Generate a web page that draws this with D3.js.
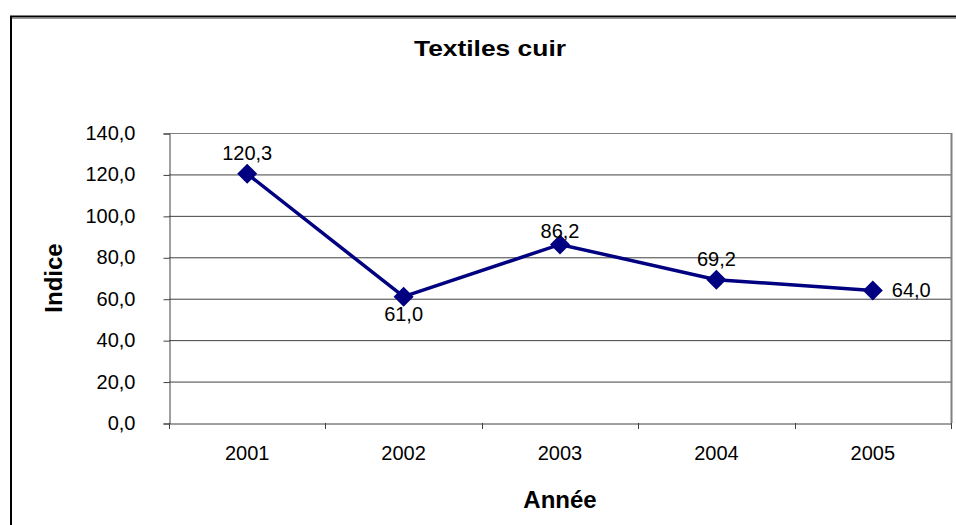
<!DOCTYPE html>
<html><head><meta charset="utf-8">
<script src="https://cdn.jsdelivr.net/npm/d3@7"></script>
<style>body{margin:0;background:#fff}svg{display:block}svg text{font-family:"Liberation Sans",Arial,sans-serif}</style>
</head><body><svg id="c" width="956" height="525"></svg>
<script>
const categories = ["2001","2002","2003","2004","2005"];
const values = [120.3, 61.0, 86.2, 69.2, 64.0];
const yTicks = [0,20,40,60,80,100,120,140];
const labelPos = ["above","below","near","above","right"];

const svg = d3.select("#c");
const m = {left:169, top:133, right:951, bottom:423};
const fmt = v => v.toFixed(1).replace(".", ",");

svg.append("rect").attr("x",11).attr("y",16.5).attr("width",1000).attr("height",600)
  .attr("fill","#fff").attr("stroke","#000").attr("stroke-width",2);
svg.append("line").attr("x1",12).attr("x2",956).attr("y1",18.5).attr("y2",18.5)
  .attr("stroke","#999").attr("stroke-width",1);

const x = d3.scaleBand().domain(categories).range([m.left, m.right]).padding(0);
const y = d3.scaleLinear().domain([0,140]).range([m.bottom, m.top]);

// gridlines
svg.append("g").selectAll("line").data(yTicks.filter(t=>t>0)).join("line")
  .attr("x1",m.left).attr("x2",m.right).attr("y1",d=>y(d)+0.5).attr("y2",d=>y(d)+0.5)
  .attr("stroke",d=>d===140?"#808080":"#404040").attr("stroke-width",1);
// right plot border
svg.append("line").attr("x1",m.right+0.5).attr("x2",m.right+0.5).attr("y1",m.top).attr("y2",m.bottom)
  .attr("stroke","#808080").attr("stroke-width",2);

// y axis
const ya = d3.axisLeft(y).tickValues(yTicks).tickSize(6).tickPadding(28).tickFormat(fmt);
const gy = svg.append("g").attr("transform",`translate(${m.left+0.5},0.5)`).call(ya);
gy.attr("font-size",null).attr("font-family",null);
gy.select(".domain").attr("stroke","#404040");
gy.selectAll(".tick line").attr("stroke","#404040");
gy.selectAll("text").style("font-size","20px").attr("fill","#000").attr("dy","0.3em");

// x axis
const xa = d3.axisBottom(x).tickSize(0).tickPadding(22);
const gx = svg.append("g").attr("transform",`translate(0,${m.bottom+0.5})`).call(xa);
gx.attr("font-size",null).attr("font-family",null);
gx.select(".domain").attr("stroke","#404040");
gx.selectAll("text").style("font-size","20px").attr("fill","#000");
// boundary ticks
const bounds = categories.map(c=>x(c)).concat([m.right]);
svg.append("g").selectAll("line").data(bounds).join("line")
  .attr("x1",d=>Math.round(d)+0.5).attr("x2",d=>Math.round(d)+0.5)
  .attr("y1",m.bottom).attr("y2",m.bottom+6).attr("stroke","#404040");

// line
const cx = c => x(c) + x.bandwidth()/2;
const pts = categories.map((c,i)=>[cx(c), y(values[i])]);
svg.append("path").attr("d", d3.line()(pts)).attr("fill","none")
  .attr("stroke","#000080").attr("stroke-width",3.5);
svg.append("g").selectAll("path").data(pts).join("path")
  .attr("d", d3.symbol(d3.symbolSquare, 200)())
  .attr("transform", d=>`translate(${d[0]},${d[1]}) rotate(45)`)
  .attr("fill","#000080");

// data labels
const dyFor = {above:-14, below:24, near:-6, right:7};
svg.append("g").selectAll("text").data(pts).join("text")
  .attr("x",(d,i)=>labelPos[i]==="right"? d[0]+19 : d[0])
  .attr("y",(d,i)=>d[1]+dyFor[labelPos[i]])
  .attr("text-anchor",(d,i)=>labelPos[i]==="right"?"start":"middle")
  .style("font-size","20px").attr("fill","#000")
  .text((d,i)=>fmt(values[i]));

// titles
svg.append("text").attr("x",490).attr("y",56).attr("text-anchor","middle")
  .attr("textLength",152).attr("lengthAdjust","spacingAndGlyphs")
  .style("font-size","22px").style("font-weight","bold").text("Textiles cuir");
svg.append("text").attr("x",(m.left+m.right)/2).attr("y",508).attr("text-anchor","middle")
  .style("font-size","24px").style("font-weight","bold").text("Année");
svg.append("text").attr("transform","translate(62,278) rotate(-90)").attr("text-anchor","middle")
  .style("font-size","24px").style("font-weight","bold").text("Indice");
</script></body></html>
